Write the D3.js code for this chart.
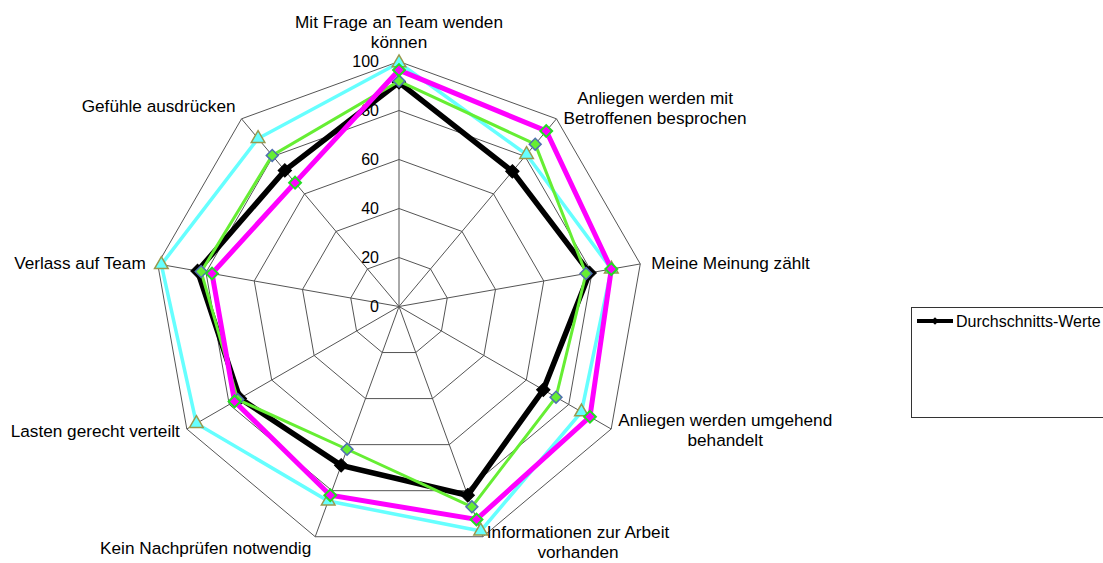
<!DOCTYPE html>
<html>
<head>
<meta charset="utf-8">
<script src="https://cdn.jsdelivr.net/npm/d3@7"></script>
<style>
  body { margin: 0; background: #fff; }
  svg { display: block; font-family: "Liberation Sans", Arial, sans-serif; }
</style>
</head>
<body>
<div id="chart"></div>
<script>
// Axis categories (clockwise from top)
var categories = [
  ["Mit Frage an Team wenden", "können"],
  ["Anliegen werden mit", "Betroffenen besprochen"],
  ["Meine Meinung zählt"],
  ["Anliegen werden umgehend", "behandelt"],
  ["Informationen zur Arbeit", "vorhanden"],
  ["Kein Nachprüfen notwendig"],
  ["Lasten gerecht verteilt"],
  ["Verlass auf Team"],
  ["Gefühle ausdrücken"]
];

var tickValues = [0, 20, 40, 60, 80, 100];

// Series values
var averageValues = [91.5, 72, 79, 68, 82, 69, 75, 83.5, 72.5];
var cyanValues    = [99.5, 81, 88, 86, 97.5, 84.5, 95.5, 98.5, 89.5];
var greenValues   = [92, 86.5, 77.5, 74, 87, 62, 76, 82, 80.5];
var magentaValues = [96.5, 93.5, 88, 90, 92.5, 82, 77.5, 77.5, 66];

var legendLabel = "Durchschnitts-Werte";

// Dimensions
var width = 1103, height = 563;
var cx = 399, cy = 306.5, radius = 245;

var svg = d3.select("#chart")
  .append("svg")
  .attr("width", width)
  .attr("height", height);

var g = svg.append("g")
  .attr("transform", "translate(" + cx + "," + cy + ")");

// Scales
var r = d3.scaleLinear().domain([0, 100]).range([0, radius]);
var angle = d3.scaleLinear().domain([0, categories.length]).range([0, 2 * Math.PI]);

function px(i, v) { return r(v) * Math.sin(angle(i)); }
function py(i, v) { return -r(v) * Math.cos(angle(i)); }

// Grid polygons
var gridLine = d3.lineRadial()
  .angle((d, i) => angle(i))
  .radius(d => r(d))
  .curve(d3.curveLinearClosed);

tickValues.filter(t => t > 0).forEach(function (t) {
  g.append("path")
    .attr("d", gridLine(categories.map(() => t)))
    .attr("fill", "none")
    .attr("stroke", "#555")
    .attr("stroke-width", 1);
});

// Spokes
g.selectAll(".spoke")
  .data(categories)
  .enter()
  .append("line")
  .attr("x1", 0).attr("y1", 0)
  .attr("x2", (d, i) => px(i, 100))
  .attr("y2", (d, i) => py(i, 100))
  .attr("stroke", "#555")
  .attr("stroke-width", 1);

// Tick labels
g.selectAll(".tick")
  .data(tickValues)
  .enter()
  .append("text")
  .attr("x", -20)
  .attr("y", d => -r(d))
  .attr("dy", "0.35em")
  .attr("text-anchor", "end")
  .style("font-size", "16px")
  .text(d => d);

// Series (drawn in this order)
var series = [
  { values: averageValues, line: "#000", width: 5.5, symbol: d3.symbolSquare, size: 90, rot: 45, fill: "#000", stroke: "#000", sw: 1 },
  { values: cyanValues, line: "#66ffff", width: 3.5, symbol: d3.symbolTriangle, size: 80, rot: 0, fill: "#66ffff", stroke: "#99994d", sw: 1.5 },
  { values: greenValues, line: "#66ee33", width: 3, symbol: d3.symbolSquare, size: 70, rot: 45, fill: "#66ee33", stroke: "#4f6fb0", sw: 1.5 },
  { values: magentaValues, line: "#ff00ff", width: 5, symbol: d3.symbolSquare, size: 70, rot: 45, fill: "#ff00ff", stroke: "#22dd22", sw: 2 }
];

var seriesLine = d3.lineRadial()
  .angle((d, i) => angle(i))
  .radius(d => r(d))
  .curve(d3.curveLinearClosed);

series.forEach(function (s) {
  var sg = g.append("g");
  sg.append("path")
    .attr("d", seriesLine(s.values))
    .attr("fill", "none")
    .attr("stroke", s.line)
    .attr("stroke-width", s.width)
    .attr("stroke-linejoin", "miter");
  sg.selectAll("path.marker")
    .data(s.values)
    .enter()
    .append("path")
    .attr("class", "marker")
    .attr("d", d3.symbol().type(s.symbol).size(s.size))
    .attr("transform", (d, i) => "translate(" + px(i, d) + "," + py(i, d) + ") rotate(" + s.rot + ")")
    .attr("fill", s.fill)
    .attr("stroke", s.stroke)
    .attr("stroke-width", s.sw);
});

// Axis labels: offsets of the label block from the axis end
var labelGap = [0, 7, 11, 7, 4, 4, 7, 12, 6];
var labelDy = [-29.5, -11, -1, 1, 5, 11, 2, -1, -13];
var lineH = 19.5;

categories.forEach(function (lines, i) {
  var ex = px(i, 100), ey = py(i, 100);
  var s = Math.sin(angle(i));
  var t = g.append("text")
    .style("font-size", "17.2px")
    .attr("text-anchor", "middle");
  var tspans = lines.map(function (l, k) {
    return t.append("tspan").attr("x", 0).attr("y", (k - (lines.length - 1) / 2) * lineH).attr("dy", "0.35em").text(l);
  });
  var w = d3.max(tspans, ts => ts.node().getComputedTextLength());
  var bx;
  if (Math.abs(s) < 0.1) bx = ex;
  else if (s > 0) bx = ex + labelGap[i] + w / 2;
  else bx = ex - labelGap[i] - w / 2;
  t.attr("transform", "translate(" + bx + "," + (ey + labelDy[i]) + ")");
});

// Legend
var legend = svg.append("g");
legend.append("rect")
  .attr("x", 911.5).attr("y", 307.5)
  .attr("width", 200).attr("height", 110)
  .attr("fill", "#fff")
  .attr("stroke", "#333")
  .attr("stroke-width", 1);
legend.append("line")
  .attr("x1", 917).attr("x2", 953)
  .attr("y1", 321).attr("y2", 321)
  .attr("stroke", "#000").attr("stroke-width", 4);
legend.append("path")
  .attr("d", d3.symbol().type(d3.symbolSquare).size(30))
  .attr("transform", "translate(935,321) rotate(45)")
  .attr("fill", "#000");
legend.append("text")
  .attr("x", 956).attr("y", 321)
  .attr("dy", "0.35em")
  .style("font-size", "16px")
  .text(legendLabel);
</script>
</body>
</html>
